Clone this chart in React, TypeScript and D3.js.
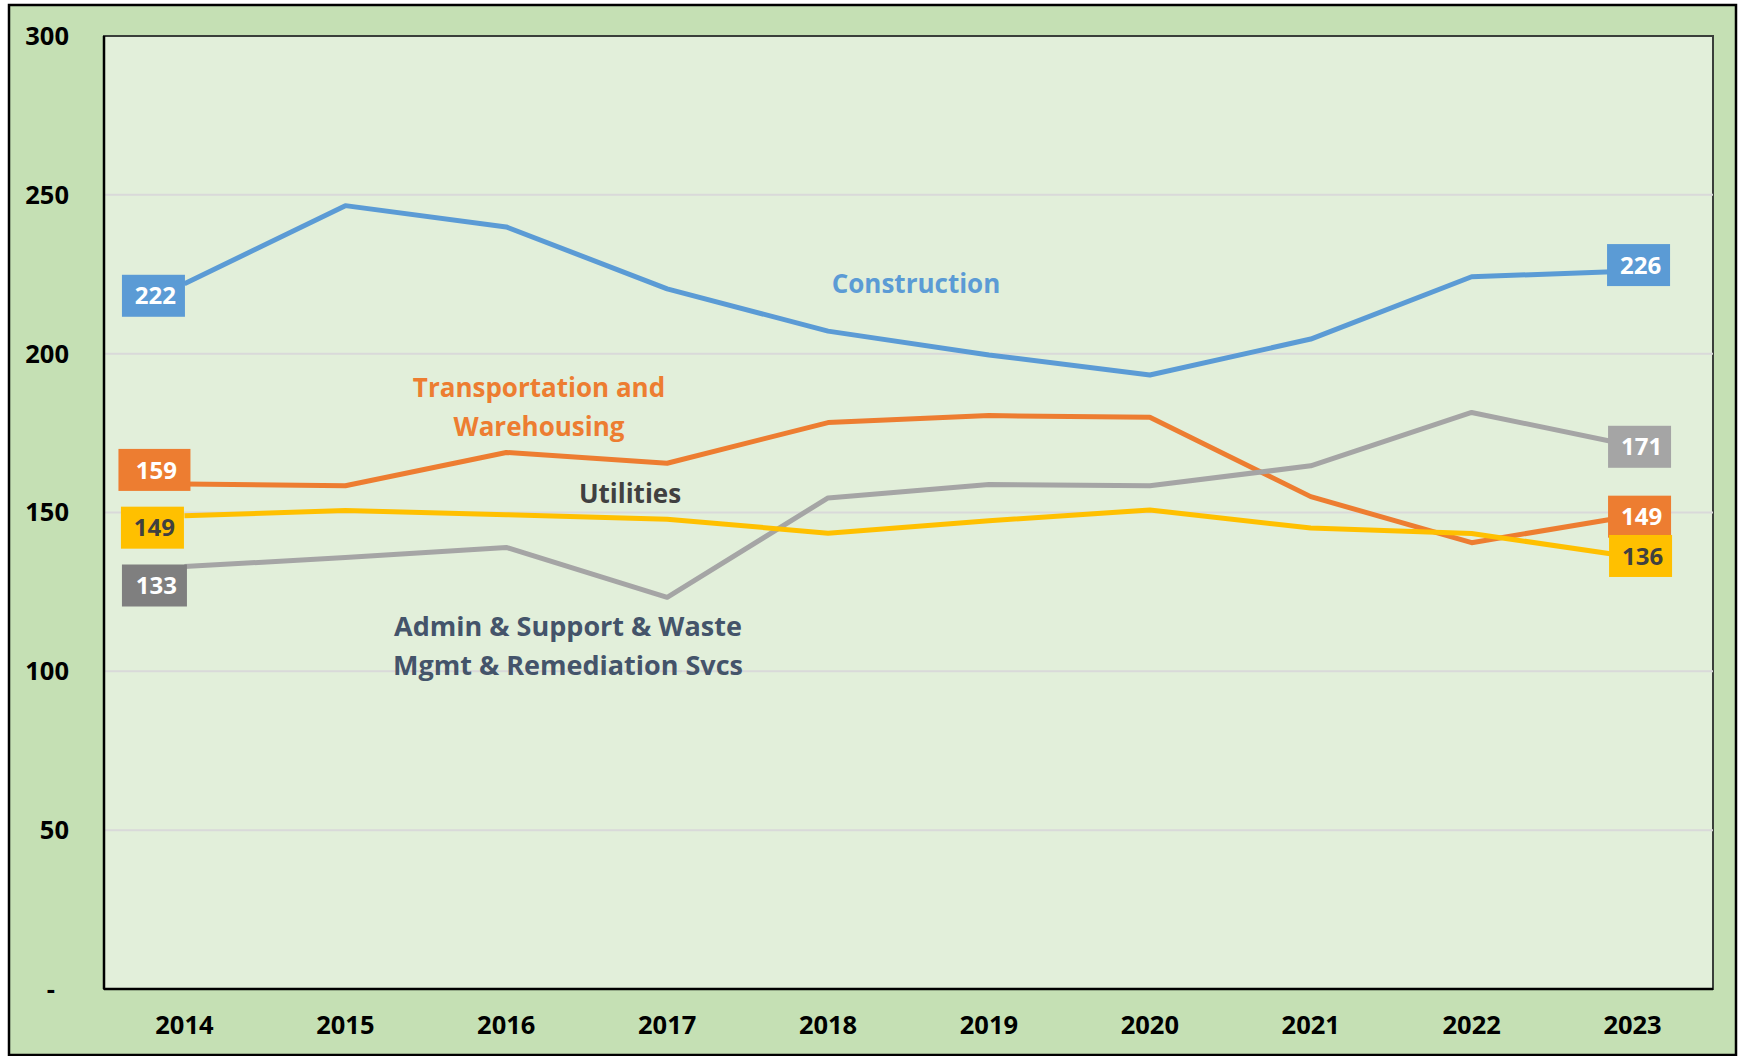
import React from 'react';
import * as d3 from 'd3';

const years = ['2014', '2015', '2016', '2017', '2018', '2019', '2020', '2021', '2022', '2023'];
const construction = [222, 246.6, 239.9, 220.4, 207.1, 199.6, 193.3, 204.6, 224.2, 226];
const transportation = [159, 158.4, 168.9, 165.5, 178.3, 180.5, 180, 155, 140.5, 149];
const admin = [133, 135.8, 139, 123.3, 154.6, 158.8, 158.4, 164.7, 181.5, 171];
const utilities = [149, 150.6, 149.3, 147.9, 143.5, 147.4, 150.8, 145.1, 143.4, 136];
const yTicks = [0, 50, 100, 150, 200, 250, 300];
const yTickLabels = ['-', '50', '100', '150', '200', '250', '300'];

const seriesNames = ['Construction', 'Transportation and Warehousing', 'Admin & Support & Waste Mgmt & Remediation Svcs', 'Utilities'];
const seriesValues = [construction, transportation, admin, utilities];
const seriesColors = ['#5B9BD5', '#ED7D31', '#A5A5A5', '#FFC000'];

// end-point value labels: series index, point index, box colour, text colour, offsets
const valueLabels = [
  { s: 0, i: 0, fill: '#5B9BD5', text: '#FFFFFF', dx: -31, dy: 12, w: 63 },
  { s: 1, i: 0, fill: '#ED7D31', text: '#FFFFFF', dx: -30, dy: -14, w: 72 },
  { s: 3, i: 0, fill: '#FFC000', text: '#404040', dx: -32, dy: 12, w: 63 },
  { s: 2, i: 0, fill: '#7F7F7F', text: '#FFFFFF', dx: -30, dy: 19, w: 65 },
  { s: 0, i: 9, fill: '#5B9BD5', text: '#FFFFFF', dx: 6, dy: -6, w: 63 },
  { s: 2, i: 9, fill: '#A5A5A5', text: '#FFFFFF', dx: 7, dy: 1, w: 63 },
  { s: 1, i: 9, fill: '#ED7D31', text: '#FFFFFF', dx: 7, dy: 1, w: 63 },
  { s: 3, i: 9, fill: '#FFC000', text: '#404040', dx: 8, dy: -1, w: 63 },
];

// series name annotations
const nameLabels = [
  { lines: ['Construction'], color: '#5B9BD5', x: 916, y: 293, size: 26 },
  { lines: ['Transportation and', 'Warehousing'], color: '#ED7D31', x: 539, y: 397, size: 26 },
  { lines: ['Utilities'], color: '#404040', x: 630, y: 503, size: 26 },
  { lines: ['Admin & Support & Waste', 'Mgmt & Remediation Svcs'], color: '#44546A', x: 568, y: 636, size: 27 },
];

const W = 1743;
const H = 1056;
const plot = { left: 104, right: 1713, top: 36, bottom: 989 };
const FONT = '"Open Sans", "Noto Sans", sans-serif';

export default function App() {
  const x = d3.scalePoint<string>().domain(years).range([plot.left, plot.right]).padding(0.5);
  const y = d3.scaleLinear().domain([0, 300]).range([plot.bottom, plot.top]);
  const line = d3
    .line<number>()
    .x((_, i) => x(years[i]) as number)
    .y((d) => y(d));

  return (
    <svg
      width={W}
      height={H}
      style={{ position: 'absolute', left: 0, top: 0, background: '#FFFFFF' }}
      fontFamily={FONT}
    >
      <rect x={9} y={5} width={1727} height={1050} fill="#C5E0B4" stroke="#000" strokeWidth={2.5} />
      <rect
        x={plot.left}
        y={plot.top}
        width={plot.right - plot.left}
        height={plot.bottom - plot.top}
        fill="#E2EFDA"
        stroke="#3A3F3A"
        strokeWidth={2}
      />
      {yTicks.filter((t) => t > 0 && t < 300).map((t) => (
        <line key={t} x1={plot.left} x2={plot.right} y1={y(t)} y2={y(t)} stroke="#D9D9D9" strokeWidth={2} />
      ))}
      <line x1={plot.left} x2={plot.left} y1={plot.top} y2={plot.bottom} stroke="#000" strokeWidth={2.5} />
      <line x1={plot.left} x2={plot.right} y1={plot.bottom} y2={plot.bottom} stroke="#000" strokeWidth={2.5} />

      {yTicks.map((t, k) => (
        <text
          key={t}
          x={t === 0 ? 55 : 69}
          y={y(t)}
          dy="0.35em"
          textAnchor="end"
          fontSize={25.5}
          fontWeight={700}
          fill="#000"
        >
          {yTickLabels[k]}
        </text>
      ))}
      {years.map((yr) => (
        <text key={yr} x={x(yr)} y={1034} textAnchor="middle" fontSize={25.5} fontWeight={700} fill="#000">
          {yr}
        </text>
      ))}

      {seriesValues.map((vals, s) => (
        <path
          key={seriesNames[s]}
          d={line(vals) as string}
          fill="none"
          stroke={seriesColors[s]}
          strokeWidth={5}
          strokeLinejoin="round"
        />
      ))}

      {nameLabels.map((n) => (
        <text key={n.lines[0]} textAnchor="middle" fontSize={n.size} fontWeight={700} fill={n.color}>
          {n.lines.map((ln, k) => (
            <tspan key={ln} x={n.x} y={n.y + k * 38.5}>
              {ln}
            </tspan>
          ))}
        </text>
      ))}

      {valueLabels.map((l, k) => {
        const v = seriesValues[l.s][l.i];
        const cx = (x(years[l.i]) as number) + l.dx;
        const cy = y(v) + l.dy;
        const h = 42;
        return (
          <g key={k}>
            <rect x={cx - l.w / 2} y={cy - h / 2} width={l.w} height={h} fill={l.fill} />
            <text x={cx + 2} y={cy} dy="0.36em" textAnchor="middle" fontSize={24} fontWeight={700} fill={l.text}>
              {Math.round(v)}
            </text>
          </g>
        );
      })}
    </svg>
  );
}
